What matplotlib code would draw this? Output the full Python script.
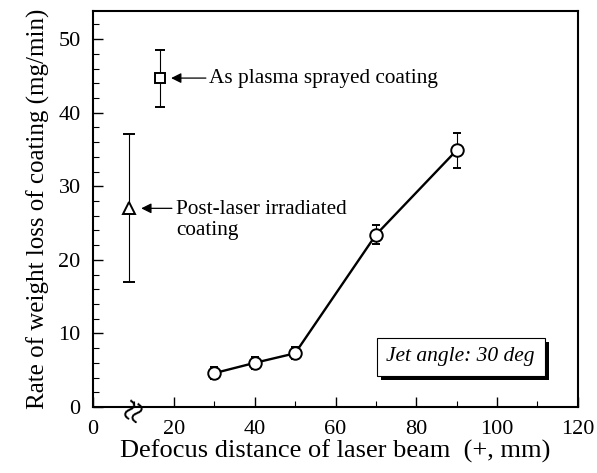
import matplotlib
matplotlib.use('Agg')
import matplotlib.pyplot as plt
import matplotlib.patheffects as pe
from matplotlib.ticker import MultipleLocator

plt.rcParams['font.family'] = ['Liberation Serif', 'DejaVu Serif']
plt.rcParams['mathtext.fontset'] = 'stix'

# Laser irradiated coatings vs defocus distance
defocus = [30, 40, 50, 70, 90]
loss = [4.6, 6.0, 7.3, 23.4, 34.9]
loss_lo = [0.8, 0.8, 0.8, 1.3, 2.4]
loss_hi = [0.8, 0.8, 0.9, 1.3, 2.3]

# As plasma sprayed coating
sprayed_x = [16.5]
sprayed_y = [44.7]
sprayed_lo = [3.9]
sprayed_hi = [3.8]

# Post-laser irradiated coating
post_x = [8.9]
post_y = [27.0]
post_lo = [10.0]
post_hi = [10.1]

fig = plt.figure(figsize=(5.97, 4.73), dpi=100)
ax = fig.add_axes([0.156, 0.1395, 0.812, 0.837])

ax.errorbar(defocus, loss, yerr=[loss_lo, loss_hi], fmt='-o', color='black',
            mfc='white', mec='black', ms=9, mew=1.4, lw=1.7,
            ecolor='black', elinewidth=0.8, capsize=3, capthick=0.8, zorder=3)
ax.errorbar(sprayed_x, sprayed_y, yerr=[sprayed_lo, sprayed_hi], fmt='s', color='black',
            mfc='white', mec='black', ms=7.5, mew=1.4,
            ecolor='black', elinewidth=0.8, capsize=3.5, capthick=0.8, zorder=3)
ax.errorbar(post_x, post_y, yerr=[post_lo, post_hi], fmt='^', color='black',
            mfc='white', mec='black', ms=8, mew=1.4,
            ecolor='black', elinewidth=0.8, capsize=4, capthick=0.8, zorder=3)

arrow = dict(arrowstyle='-|>', color='black', lw=0.9, mutation_scale=15, shrinkA=0, shrinkB=0)
ax.annotate('As plasma sprayed coating', xy=(19.3, sprayed_y[0]), xytext=(28.6, sprayed_y[0]),
            va='center', ha='left', fontsize=15.3, arrowprops=arrow)
ax.annotate('', xy=(11.9, post_y[0]), xytext=(19.5, post_y[0]), arrowprops=arrow)
ax.text(20.5, 28.1, 'Post-laser irradiated\ncoating', va='top', ha='left',
        fontsize=15.3, linespacing=1.15)

box = ax.text(91, 6.8, 'Jet angle: 30 deg', style='italic', fontsize=15.5, ha='center', va='center',
              bbox=dict(boxstyle='square,pad=0.45', fc='white', ec='black', lw=0.8))
box.get_bbox_patch().set_path_effects([
    pe.SimplePatchShadow(offset=(3, -3), shadow_rgbFace='black', alpha=1), pe.Normal()])

# axis break mark
ax.text(10.9, -0.6, '≈', rotation=65, fontsize=29, ha='center', va='center', clip_on=False)

ax.set_xlim(0, 120)
ax.set_ylim(0, 53.8)
ax.xaxis.set_major_locator(MultipleLocator(20))
ax.xaxis.set_minor_locator(MultipleLocator(10))
ax.yaxis.set_major_locator(MultipleLocator(10))
ax.yaxis.set_minor_locator(MultipleLocator(2))
ax.tick_params(which='both', direction='in', top=False, right=False, labelsize=16)
ax.tick_params(axis='x', pad=9)
ax.tick_params(axis='y', pad=9)
ax.tick_params(which='major', length=7, width=1)
ax.tick_params(which='minor', length=4, width=0.8)
for s in ax.spines.values():
    s.set_linewidth(1.5)

ax.set_xlabel('Defocus distance of laser beam  (+, mm)', fontsize=19, labelpad=1)
ax.set_ylabel('Rate of weight loss of coating (mg/min)', fontsize=18, labelpad=6)

fig.savefig('out.png', dpi=100)
